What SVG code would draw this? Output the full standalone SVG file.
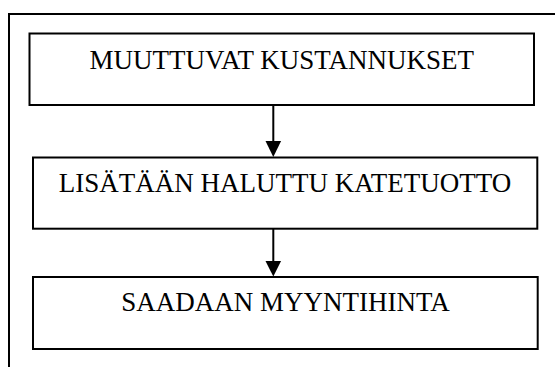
<svg xmlns="http://www.w3.org/2000/svg" width="555" height="367" viewBox="0 0 555 367">
<defs>
<style>
.box{fill:#fff;stroke:#000;stroke-width:2}
.lbl{font-family:"Liberation Serif","Times New Roman",serif;font-size:27px;fill:#000;text-anchor:middle}
.ln{stroke:#000;stroke-width:2;fill:none}
.head{fill:#000}
.frame{stroke:#000;stroke-width:2;fill:none}
</style>
</defs>
<rect width="555" height="367" fill="#fff"/>
<path class="frame" d="M9,367 V14 H555"/>
<g id="node1">
<rect class="box" x="29.5" y="33.5" width="504.5" height="71.5"/>
<text class="lbl" x="281.8" y="69.3">MUUTTUVAT KUSTANNUKSET</text>
</g>
<g id="node2">
<rect class="box" x="33" y="157.5" width="504.3" height="71.2"/>
<text class="lbl" x="285" y="191.7">LISÄTÄÄN HALUTTU KATETUOTTO</text>
</g>
<g id="node3">
<rect class="box" x="33" y="277" width="504.7" height="72"/>
<text class="lbl" x="285.5" y="311">SAADAAN MYYNTIHINTA</text>
</g>
<g id="connectors">
<path class="ln" d="M273.3,105 V141"/>
<path class="head" d="M265.5,141 L281.1,141 L273.3,157 Z"/>
<path class="ln" d="M273.3,228.7 V261"/>
<path class="head" d="M265.5,261 L281.1,261 L273.3,276.5 Z"/>
</g>
</svg>
